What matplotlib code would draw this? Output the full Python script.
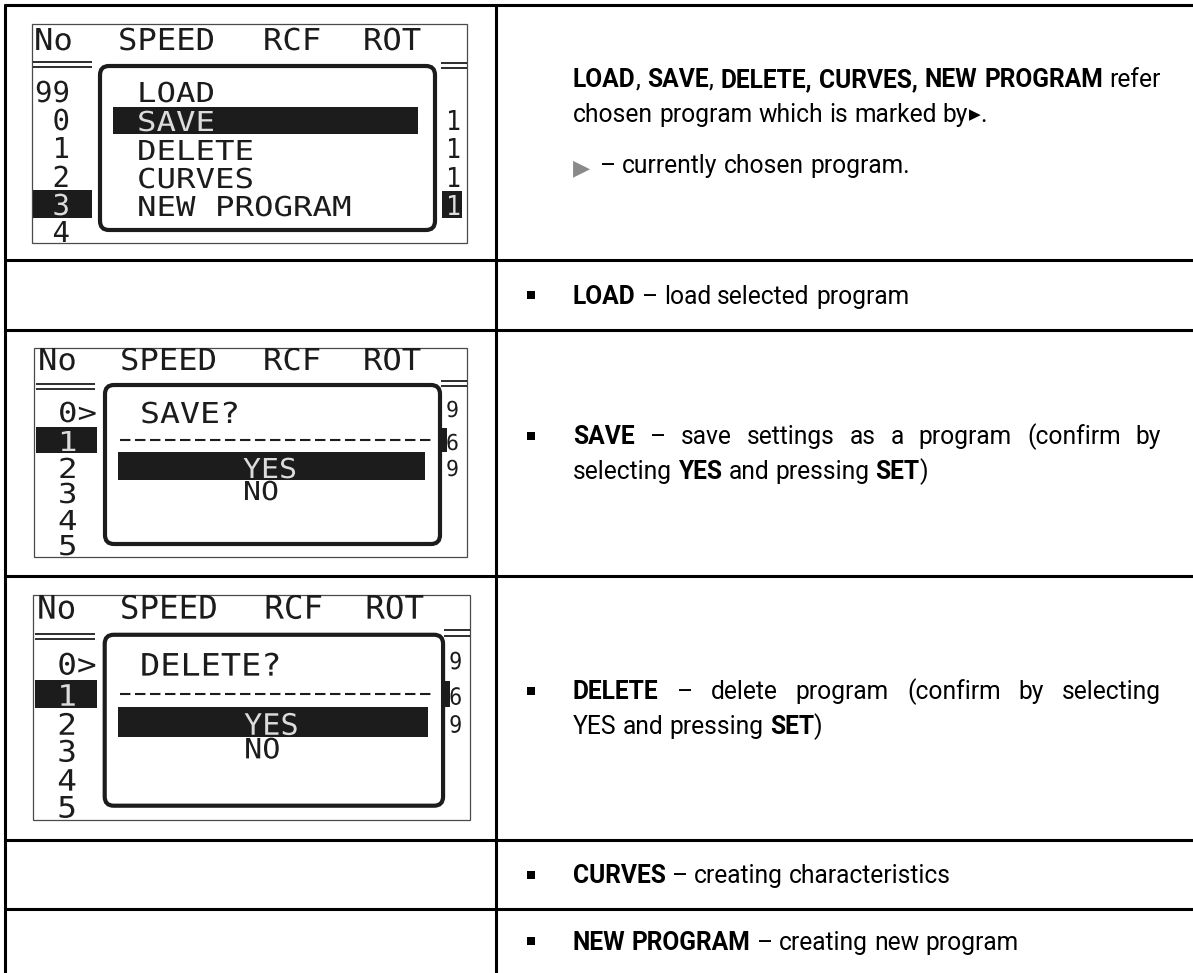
import matplotlib
matplotlib.use("Agg")
import matplotlib.pyplot as plt
from matplotlib.patches import Rectangle, FancyBboxPatch, PathPatch
from matplotlib.textpath import TextPath
from matplotlib.font_manager import FontProperties
from matplotlib.transforms import Affine2D

# ---------------- content ----------------
lcd_header = ["No", "SPEED", "RCF", "ROT"]
menu_program_numbers = ["99", "0", "1", "2", "3", "4"]
menu_selected_index = 4
menu_options = ["LOAD", "SAVE", "DELETE", "CURVES", "NEW PROGRAM"]
menu_highlight_index = 1
menu_right_column = ["1", "1", "1", "1"]
confirm_program_numbers = ["0>", "1", "2", "3", "4", "5"]
confirm_selected_index = 1
confirm_titles = ["SAVE?", "DELETE?"]
confirm_choices = ["YES", "NO"]
confirm_right_column = ["9", "6", "9"]

intro_lines = ["**LOAD**, **SAVE**, **DELETE, CURVES, NEW PROGRAM** refer",
               "chosen program which is marked by▶."]
marker_note = "– currently chosen program."
option_descriptions = [
    ["**LOAD** – load selected program"],
    ["**SAVE** – save settings as a program (confirm by",
     "selecting **YES** and pressing **SET**)"],
    ["**DELETE** – delete program (confirm by selecting",
     "YES and pressing **SET**)"],
    ["**CURVES** – creating characteristics"],
    ["**NEW PROGRAM** – creating new program"],
]

# ---------------- layout ----------------
W, H = 1193, 973
ROW_LINES = [5, 260, 330, 576, 840, 909]
TABLE_LEFT, DIVIDER = 5, 496
TEXT_X, BULLET_X, TEXT_RIGHT = 573, 531, 1161
LINE_PITCH = 35
FAM = ["Roboto", "DejaVu Sans"]
CAP = 0.711

fig = plt.figure(figsize=(W / 100, H / 100), dpi=100)
ax = fig.add_axes([0, 0, 1, 1])
ax.set_xlim(0, W)
ax.set_ylim(H, 0)
ax.axis("off")
renderer = fig.canvas.get_renderer()

# ---------------- table grid ----------------
GRID_LW = 2.2
for y in ROW_LINES:
    ax.plot([TABLE_LEFT - 1, W + 5], [y, y], color="black", lw=GRID_LW,
            solid_capstyle="butt")
for x in (TABLE_LEFT, DIVIDER):
    ax.plot([x, x], [ROW_LINES[0] - 1, H + 5], color="black", lw=GRID_LW,
            solid_capstyle="butt")

# ---------------- rich text helpers ----------------
def prop(bold, fs, family=None):
    return FontProperties(family=family or FAM, weight="bold" if bold else "normal",
                          size=fs)


def tw(s, p):
    w, h, d = renderer.get_text_width_height_descent(s, p, ismath=False)
    return w


def advance(s, p):
    return tw("|" + s + "|", p) - tw("||", p)


def parse(line):
    runs, bold = [], False
    for part in line.split("**"):
        if part:
            runs.append((part, bold))
        bold = not bold
    return runs


def split_words(runs):
    words = [[]]
    for text, bold in runs:
        pieces = text.split(" ")
        for j, piece in enumerate(pieces):
            if j > 0:
                words.append([])
            if not piece:
                continue
            segs = piece.split("▶")
            for k, seg in enumerate(segs):
                if k > 0:
                    words[-1].append(("▶", "marker"))
                if seg:
                    words[-1].append((seg, bold))
    return [w for w in words if w]


def run_prop(style, fs):
    if style == "marker":
        return FontProperties(family="DejaVu Sans", size=fs * 0.62)
    return prop(style, fs)


def measure_words(line, fs):
    words = split_words(parse(line))
    out = []
    for w in words:
        out.append([(s, st, advance(s, run_prop(st, fs))) for s, st in w])
    return out


def natural_width(line, fs):
    ws = measure_words(line, fs)
    sp = advance(" ", prop(False, fs))
    return sum(a for w in ws for _, _, a in w) + sp * (len(ws) - 1)


def draw_line(line, x0, mid, fs, justify_to=None, color="black"):
    ws = measure_words(line, fs)
    wl = [sum(a for _, _, a in w) for w in ws]
    sp = advance(" ", prop(False, fs))
    gap = sp
    if justify_to is not None and len(ws) > 1:
        gap = max(sp * 0.8, (justify_to - x0 - sum(wl)) / (len(ws) - 1))
    em = fs * 100 / 72
    base = mid + CAP * em / 2
    x = x0
    for w, l in zip(ws, wl):
        for s, st, a in w:
            if st == "marker":
                ax.text(x + 1, base - 0.12 * em, s, fontproperties=run_prop(st, fs),
                        ha="left", va="baseline", color="black")
            else:
                ax.text(x, base, s, fontproperties=run_prop(st, fs),
                        ha="left", va="baseline", color=color)
            x += a
        x += gap


# font size fitted to the widths of lines in the reference
fs0 = 20.0
FS = fs0 * min(487.0 / natural_width(option_descriptions[4][0], fs0),
               586.0 / natural_width(intro_lines[0], fs0))
EM = FS * 100 / 72

# ---------------- row texts ----------------
intro_mids = [78, 113]
for i, line in enumerate(intro_lines):
    draw_line(line, TEXT_X, intro_mids[i], FS,
              justify_to=TEXT_RIGHT if i == 0 else None)
note_mid = 164
ax.text(TEXT_X, note_mid + 0.40 * EM, "▶", family="DejaVu Sans", fontsize=FS * 0.9,
        color="#8a8a8a", ha="left", va="baseline")
draw_line(marker_note, TEXT_X + 27, note_mid, FS)

desc_rows = [(ROW_LINES[1], ROW_LINES[2]), (ROW_LINES[2], ROW_LINES[3]),
             (ROW_LINES[3], ROW_LINES[4]), (ROW_LINES[4], ROW_LINES[5]),
             (ROW_LINES[5], H)]
for (top, bot), lines in zip(desc_rows, option_descriptions):
    center = (top + bot) / 2
    first = center - (len(lines) - 1) * LINE_PITCH / 2
    ax.add_patch(Rectangle((BULLET_X - 4, first - 4), 8, 8, color="black", lw=0))
    for j, line in enumerate(lines):
        just = TEXT_RIGHT if (j == 0 and len(lines) > 1) else None
        draw_line(line, TEXT_X, first + j * LINE_PITCH, FS, justify_to=just)

# ---------------- LCD helpers ----------------
MONO = FontProperties(family="DejaVu Sans Mono")
INK = "#1c1c1c"
LIT = "#dcdcdc"


class Map:
    def __init__(self, src, dst, sx=1.0, sy=1.0):
        self.src, self.dst, self.sx, self.sy = src, dst, sx, sy

    def pt(self, x, y):
        return (self.dst[0] + (x - self.src[0]) * self.sx,
                self.dst[1] + (y - self.src[1]) * self.sy)


def lcd_text(M, x, yb, s, cw, ch, clip, color=INK):
    X, Y = M.pt(x, yb)
    path = TextPath((0, 0), s, size=1, prop=MONO)
    tr = Affine2D().scale(cw * M.sx / 0.602, -ch * M.sy / 0.729).translate(X, Y)
    p = PathPatch(tr.transform_path(path), fc=color, ec="none", lw=0, zorder=4)
    ax.add_patch(p)
    p.set_clip_path(clip)


def lcd_rect(M, x0, y0, x1, y1, clip, color=INK, z=3):
    X0, Y0 = M.pt(x0, y0)
    X1, Y1 = M.pt(x1, y1)
    r = Rectangle((X0, Y0), X1 - X0, Y1 - Y0, fc=color, ec="none", lw=0, zorder=z)
    ax.add_patch(r)
    r.set_clip_path(clip)


def lcd_hline(M, x0, x1, y, clip, lw=1.3, **kw):
    X0, Y = M.pt(x0, y)
    X1, _ = M.pt(x1, y)
    ln, = ax.plot([X0, X1], [Y, Y], color=INK, lw=lw, solid_capstyle="butt",
                  zorder=3, **kw)
    ln.set_clip_path(clip)


def lcd_box(M, box):
    X0, Y0 = M.pt(box[0], box[1])
    X1, Y1 = M.pt(box[2], box[3])
    bg = Rectangle((X0, Y0), X1 - X0, Y1 - Y0, fc="white", ec="#4a4a4a", lw=0.9,
                   zorder=2)
    ax.add_patch(bg)
    return bg


def lcd_frame(M, fr, clip):
    X0, Y0 = M.pt(fr[0], fr[1])
    X1, Y1 = M.pt(fr[2], fr[3])
    f = FancyBboxPatch((X0, Y0), X1 - X0, Y1 - Y0,
                       boxstyle="round,pad=0,rounding_size=9", fc="none", ec=INK,
                       lw=3.0, zorder=3)
    ax.add_patch(f)
    f.set_clip_path(clip)


def draw_menu_lcd(M):
    clip = lcd_box(M, (32, 24, 467, 243))
    for s, x in zip(lcd_header, [34, 118, 263, 363]):
        lcd_text(M, x, 50, s, 19.4, 22, clip)
    for y in (62, 67):
        lcd_hline(M, 33, 92, y, clip)
    for y in (63, 68):
        lcd_hline(M, 441, 467, y, clip)
    lcd_frame(M, (100, 66, 435, 230), clip)
    num_bottoms = [102, 130, 158, 187, 215, 242]
    for i, (s, yb) in enumerate(zip(menu_program_numbers, num_bottoms)):
        col = INK
        if i == menu_selected_index:
            lcd_rect(M, 33, yb - 25, 92, yb + 3, clip)
            col = LIT
        lcd_text(M, 70 - 17.5 * len(s), yb, s, 17.5, 21, clip, color=col)
    opt_bottoms = [102, 131, 160, 188, 216]
    for i, (s, yb) in enumerate(zip(menu_options, opt_bottoms)):
        col = INK
        if i == menu_highlight_index:
            lcd_rect(M, 113, yb - 24, 418, yb + 3, clip)
            col = LIT
        lcd_text(M, 137, yb, s, 19.5, 20, clip, color=col)
    right_bottoms = [130, 158, 187, 215]
    for i, (s, yb) in enumerate(zip(menu_right_column, right_bottoms)):
        col = INK
        if i == len(menu_right_column) - 1:
            lcd_rect(M, 442, yb - 24, 462, yb + 3, clip)
            col = LIT
        lcd_text(M, 446, yb, s, 15, 20, clip, color=col)


def draw_confirm_lcd(M, title):
    clip = lcd_box(M, (34, 348, 467, 557))
    for s, x in zip(lcd_header, [38, 120, 263, 363]):
        lcd_text(M, x, 370, s, 19.4, 22, clip)
    for y in (384, 389):
        lcd_hline(M, 36, 95, y, clip)
    for y in (381, 386):
        lcd_hline(M, 441, 467, y, clip)
    lcd_frame(M, (105, 385, 440, 544), clip)
    num_bottoms = [422, 451, 478, 503, 530, 555]
    for i, (s, yb) in enumerate(zip(confirm_program_numbers, num_bottoms)):
        col = INK
        if i == confirm_selected_index:
            lcd_rect(M, 36, yb - 24, 97, yb + 2, clip)
            col = LIT
        lcd_text(M, 58, yb, s, 19.5, 20, clip, color=col)
    lcd_text(M, 140, 423, title, 20, 21, clip)
    X0, Y = M.pt(120, 440)
    X1, _ = M.pt(432, 440)
    ln, = ax.plot([X0, X1], [Y, Y], color=INK, lw=1.5, dashes=(5, 2.2), zorder=3)
    ln.set_clip_path(clip)
    lcd_rect(M, 118, 452, 425, 480, clip)
    lcd_text(M, 243, 478, confirm_choices[0], 18, 20, clip, color=LIT)
    lcd_text(M, 243, 500, confirm_choices[1], 18, 19, clip)
    rb = [417, 450, 476]
    lcd_rect(M, 441, 428, 447, 452, clip)
    for s, yb in zip(confirm_right_column, rb):
        lcd_text(M, 446, yb, s, 13, 16, clip)


draw_menu_lcd(Map((0, 0), (0, 0)))
draw_confirm_lcd(Map((34, 348), (34, 348)), confirm_titles[0])
draw_confirm_lcd(Map((34, 348), (33, 595), 1.01, 1.075), confirm_titles[1])

fig.savefig("out.png", dpi=100, facecolor="white")
